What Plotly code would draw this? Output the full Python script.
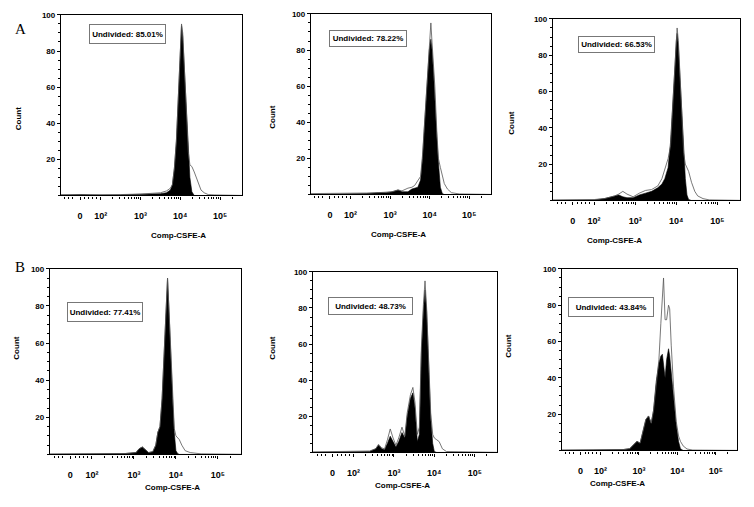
import numpy as np
import plotly.graph_objects as go

W, H = 754, 507

# x in decades of Comp-CSFE-A (log10), counts
# filled = stained sample (black), line = overlay histogram
a1_u = [1.0, 1.5, 2.0, 2.5, 3.0, 3.3, 3.5, 3.65, 3.75, 3.8, 3.85, 3.9, 3.95, 3.98, 4.0, 4.03,
        4.06, 4.09, 4.12, 4.16, 4.2, 4.24, 4.29, 4.35, 4.42, 4.46, 4.52, 4.6, 4.7, 4.85, 5.55]
a1_fill = [0, 0.5, 0, 0.3, 0.5, 0.8, 1, 1.5, 3, 6, 15, 30, 55, 72, 86, 94,
           88, 75, 58, 40, 22, 10, 2, 0, 0, 0, 0, 0, 0, 0, 0]
a1_line = [0.5, 0.5, 0.3, 0.5, 0.8, 1.2, 1.5, 2.5, 4, 6, 15, 30, 55, 72, 88, 95,
           90, 76, 60, 42, 24, 17, 16, 13, 9, 6, 3, 1.5, 0.5, 0.3, 0]

a2_u = [1.0, 2.0, 2.4, 2.7, 2.9, 3.05, 3.2, 3.3, 3.45, 3.55, 3.62, 3.7, 3.77, 3.82, 3.86, 3.9,
        3.95, 3.99, 4.03, 4.06, 4.1, 4.13, 4.18, 4.22, 4.27, 4.32, 4.37, 4.45, 4.55, 4.75, 5.55]
a2_fill = [0, 0.3, 0.5, 1, 1, 1.5, 2.5, 1.5, 1.5, 3, 3.5, 4, 8, 20, 35, 50,
           68, 80, 86, 80, 66, 50, 32, 18, 4, 0.5, 0, 0, 0, 0, 0]
a2_line = [0.5, 0.5, 0.8, 1, 1.5, 1.5, 2.5, 2, 3.5, 4, 5, 8, 10, 22, 36, 52,
           70, 82, 95, 84, 70, 60, 35, 20, 15, 10, 6, 3, 1, 0.3, 0]

a3_u = [1.0, 2.0, 2.25, 2.35, 2.5, 2.6, 2.7, 2.8, 2.95, 3.1, 3.25, 3.4, 3.55, 3.65, 3.72, 3.8,
        3.86, 3.92, 3.97, 4.0, 4.02, 4.05, 4.09, 4.13, 4.18, 4.22, 4.26, 4.3, 4.37, 4.45, 4.52,
        4.65, 4.8, 5.55]
a3_fill = [0, 0.3, 1, 1.5, 2.5, 3, 2, 1.5, 1.5, 3, 4, 5, 7, 9, 12, 18,
           32, 53, 75, 88, 92, 85, 68, 48, 25, 12, 3, 0.5, 0, 0, 0,
           0, 0, 0]
a3_line = [0.3, 0.5, 1, 1.5, 2.5, 3.5, 5, 3.5, 2, 4, 5.5, 6, 8, 12, 17, 23,
           30, 55, 78, 90, 95, 88, 70, 50, 26, 20, 18, 16, 10, 5, 2.5,
           1, 0.3, 0]

b1_u = [1.0, 2.0, 2.8, 3.05, 3.12, 3.2, 3.28, 3.35, 3.45, 3.52, 3.57, 3.62, 3.67, 3.72, 3.76,
        3.8, 3.83, 3.87, 3.92, 3.96, 4.0, 4.04, 4.08, 4.14, 4.22, 4.34, 4.6, 5.55]
b1_fill = [0, 0.3, 0.5, 1, 3, 4, 2.5, 1, 1.5, 5, 12, 15, 30, 55, 80,
           95, 80, 55, 30, 12, 2, 0.5, 0, 0, 0, 0, 0, 0]
b1_line = [0.3, 0.5, 0.5, 1, 3, 4, 2.5, 1, 1.5, 5, 12, 15, 30, 55, 80,
           95, 80, 58, 32, 14, 10, 9, 8, 5, 2, 1, 0.3, 0]

b2_u = [1.0, 2.0, 2.4, 2.55, 2.62, 2.7, 2.77, 2.84, 2.91, 2.98, 3.05, 3.12, 3.2, 3.27, 3.33,
        3.41, 3.47, 3.52, 3.58, 3.63, 3.68, 3.73, 3.77, 3.81, 3.85, 3.91, 3.96, 4.0, 4.06,
        4.12, 4.2, 4.3, 5.55]
b2_fill = [0, 0.3, 0.5, 2, 4, 2, 1.5, 5, 9, 6, 3, 6, 11, 8, 20,
           30, 33, 25, 6, 10, 55, 78, 90, 78, 56, 19, 5, 0.5, 0,
           0, 0, 0, 0]
b2_line = [0.3, 0.5, 0.8, 2, 4.5, 2.5, 2, 7, 13, 8, 4, 8, 14, 9, 22,
           32, 36, 28, 10, 14, 58, 82, 95, 80, 58, 22, 10, 8, 7,
           6, 2, 0.5, 0]

b3_u = [1.0, 2.0, 2.6, 2.76, 2.85, 2.95, 3.03, 3.1, 3.18, 3.25, 3.32, 3.38, 3.45, 3.52, 3.57,
        3.61, 3.64, 3.68, 3.72, 3.77, 3.8, 3.84, 3.9, 3.97, 4.03, 4.08, 4.15, 4.25, 4.4, 5.55]
b3_fill = [0, 0.3, 0.5, 1, 3, 5, 4, 10, 17, 19, 15, 22, 38, 48, 52,
           53, 48, 40, 50, 56, 52, 42, 30, 14, 5, 1, 0, 0, 0, 0]
b3_line = [0.3, 0.5, 0.5, 1, 3, 5, 4, 10, 17, 19, 15, 22, 38, 50, 70,
           88, 95, 72, 72, 80, 78, 58, 35, 16, 8, 5, 2.5, 0.8, 0.2, 0]

undivided = ["85.01%", "78.22%", "66.53%", "77.41%", "48.73%", "43.84%"]
row_labels = ["A", "B"]

x_tickvals = [1.48, 2, 3, 4, 5]
x_ticktext = ["0", "10²", "10³", "10⁴", "10⁵"]
y_tickvals = [20, 40, 60, 80, 100]

series = [(a1_u, a1_fill, a1_line), (a2_u, a2_fill, a2_line), (a3_u, a3_fill, a3_line),
          (b1_u, b1_fill, b1_line), (b2_u, b2_fill, b2_line), (b3_u, b3_fill, b3_line)]

# pixel boxes of the six plot areas (left, top, right, bottom) and of the gate labels
boxes = [(61, 11, 242, 193), (311, 10, 491, 192), (553, 15, 740, 198),
         (50, 267, 241, 454), (313, 270, 497, 452), (562, 267, 737, 450)]
gates = [(89, 20, 166, 40), (329, 26, 407, 43), (578, 32, 655, 49),
         (67, 300, 143, 320), (328, 295, 413, 313), (568, 295, 654, 315)]
count_x = [12, 273, 518, 10, 273, 515]

minor_x = [1.1, 1.2, 1.3, 1.6, 1.7, 1.8, 1.9]
for d in [2, 3, 4]:
    minor_x += [d + np.log10(k) for k in range(2, 10)]
minor_x += [5 + np.log10(2)]

small = dict(family="Liberation Sans, Arial", size=8, color="black", weight="bold")
xtick = dict(family="Liberation Sans, Arial", size=9, color="black", weight="bold")

fig = go.Figure()
annotations = []
for i, ((u, fill, line), (l, t, r, b)) in enumerate(zip(series, boxes)):
    n = "" if i == 0 else str(i + 1)
    fig.add_trace(go.Scatter(x=u, y=fill, mode="lines", fill="tozeroy", fillcolor="black",
                             line=dict(color="black", width=0.6), xaxis="x" + n, yaxis="y" + n,
                             showlegend=False, hoverinfo="skip"))
    fig.add_trace(go.Scatter(x=u, y=line, mode="lines", line=dict(color="#555555", width=0.8),
                             xaxis="x" + n, yaxis="y" + n, showlegend=False))
    fig.layout["xaxis" + n] = dict(
        domain=[l / W, r / W], anchor="y" + n, range=[1.0, 5.55],
        showline=True, mirror=True, linecolor="black", linewidth=1.3,
        showgrid=False, zeroline=False, ticks="outside", ticklen=3, tickcolor="black",
        tickvals=x_tickvals, ticktext=x_ticktext, tickfont=xtick, ticklabelstandoff=9,
        minor=dict(tickvals=minor_x, ticks="outside", ticklen=2, tickcolor="black"))
    fig.layout["yaxis" + n] = dict(
        domain=[1 - b / H, 1 - t / H], anchor="x" + n, range=[0, 100],
        showline=True, mirror=True, linecolor="black", linewidth=1.3,
        showgrid=False, zeroline=False, ticks="outside", ticklen=3, tickcolor="black",
        tickvals=y_tickvals, tickfont=small,
        minor=dict(tickmode="linear", tick0=0, dtick=5, ticks="outside", ticklen=2,
                   tickcolor="black"))
    gl, gt, gr, gb = gates[i]
    annotations.append(dict(x=gl / W, y=1 - gt / H, xref="paper", yref="paper",
                            xanchor="left", yanchor="top", text="Undivided: " + undivided[i],
                            showarrow=False, width=gr - gl - 2, height=gb - gt - 2,
                            bordercolor="#777777", borderwidth=1, borderpad=0,
                            bgcolor="white", font=small))
    annotations.append(dict(x=(l + r) / 2 / W - 3 / W, y=1 - (b + 40) / H, xref="paper", yref="paper",
                            text="Comp-CSFE-A", showarrow=False, font=small))
    annotations.append(dict(x=count_x[i] / W, y=1 - (t + b) / 2 / H, xref="paper", yref="paper",
                            text="Count", textangle=-90, showarrow=False, font=small))

for lab, y in zip(row_labels, [15, 265]):
    annotations.append(dict(x=13 / W, y=1 - y / H, xref="paper", yref="paper", text=lab,
                            showarrow=False, font=dict(family="Liberation Serif", size=15,
                                                       color="black")))

fig.update_layout(width=W, height=H, margin=dict(l=0, r=0, t=0, b=0),
                  paper_bgcolor="white", plot_bgcolor="white", annotations=annotations)
# drop the browser's default page margin so the figure sits at the window's corner
fig.write_html("out.html", config={"displayModeBar": False},
               post_script="document.body.style.margin='0';")
